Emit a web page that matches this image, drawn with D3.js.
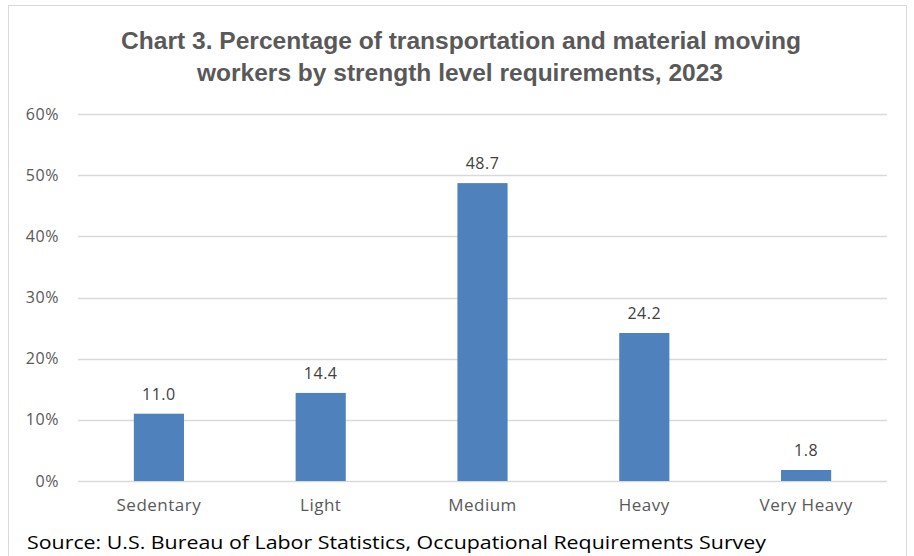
<!DOCTYPE html>
<html><head><meta charset="utf-8">
<script src="https://cdn.jsdelivr.net/npm/d3@7"></script>
<style>body{margin:0;background:#fff;}svg{display:block;}</style>
</head><body>
<svg id="chart" width="914" height="556"></svg>
<script>
const categories = ["Sedentary", "Light", "Medium", "Heavy", "Very Heavy"];
const values = [11.0, 14.4, 48.7, 24.2, 1.8];
const yTicks = [0, 10, 20, 30, 40, 50, 60];
const titleLines = ["Chart 3. Percentage of transportation and material moving", "workers by strength level requirements, 2023"];
const sourceText = "Source: U.S. Bureau of Labor Statistics, Occupational Requirements Survey";

const svg = d3.select("#chart");
const font = "'Liberation Sans', Arial, sans-serif";
const font2 = "'Open Sans', 'Noto Sans', sans-serif";

// border
svg.append("rect").attr("x", 8.5).attr("y", 5.5).attr("width", 898).attr("height", 560)
  .attr("fill", "none").attr("stroke", "#d9d9d9").attr("stroke-width", 1);

const x = d3.scaleBand().domain(categories).range([78, 887]).paddingInner(0.69).paddingOuter(0.345);
const y = d3.scaleLinear().domain([0, 60]).range([481, 114]);

// gridlines
svg.append("g").selectAll("line").data(yTicks).join("line")
  .attr("x1", 78).attr("x2", 887)
  .attr("y1", d => Math.round(y(d)) + 0.5).attr("y2", d => Math.round(y(d)) + 0.5)
  .attr("stroke", "#d9d9d9").attr("stroke-width", 1.5);

// y axis labels
const yAxis = d3.axisLeft(y).tickValues(yTicks).tickFormat(d => d + "%").tickSize(0).tickPadding(0);
const gy = svg.append("g").attr("transform", "translate(59,0)").call(yAxis);
gy.select(".domain").remove();
gy.selectAll("text").attr("font-family", font2).attr("font-size", "16px")
  .attr("letter-spacing", "0.6px").attr("fill", "#595959");

// x axis labels
const xAxis = d3.axisBottom(x).tickSize(0).tickPadding(0);
const gx = svg.append("g").attr("transform", "translate(0,499)").call(xAxis);
gx.select(".domain").remove();
gx.selectAll("text").attr("font-family", font2).attr("font-size", "17px")
  .attr("letter-spacing", "0.5px").attr("fill", "#595959");

// bars
svg.append("g").selectAll("rect").data(values).join("rect")
  .attr("x", (d, i) => x(categories[i]))
  .attr("width", x.bandwidth())
  .attr("y", d => y(d))
  .attr("height", d => y(0) - y(d))
  .attr("fill", "#4f81bd");

// data labels
svg.append("g").selectAll("text").data(values).join("text")
  .attr("x", (d, i) => x(categories[i]) + x.bandwidth() / 2)
  .attr("y", d => y(d) - 14)
  .attr("text-anchor", "middle")
  .attr("font-family", font2).attr("font-size", "16px").attr("letter-spacing", "0.5px").attr("fill", "#404040")
  .text(d => d.toFixed(1));

// title
const tl = [[461, 49, 680], [460, 81, 526]];
svg.append("g").selectAll("text").data(titleLines).join("text")
  .attr("x", (d, i) => tl[i][0]).attr("y", (d, i) => tl[i][1])
  .attr("text-anchor", "middle")
  .attr("textLength", (d, i) => tl[i][2]).attr("lengthAdjust", "spacingAndGlyphs")
  .attr("font-family", font).attr("font-weight", "bold").attr("font-size", "23.5px").attr("fill", "#595959")
  .text(d => d);

// source
svg.append("text").attr("x", 27).attr("y", 549)
  .attr("textLength", 739).attr("lengthAdjust", "spacingAndGlyphs")
  .attr("font-family", font2).attr("font-size", "19px").attr("fill", "#000")
  .text(sourceText);
</script>
</body></html>
